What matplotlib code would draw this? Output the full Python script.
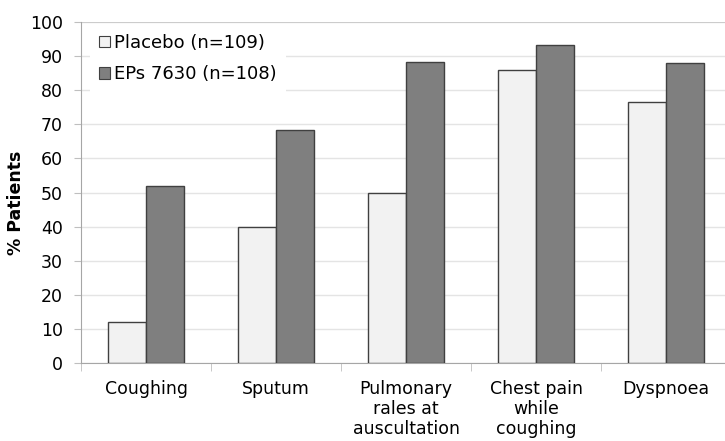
import numpy as np
import matplotlib
matplotlib.use("Agg")
from matplotlib import pyplot as plt
from matplotlib.patches import Patch

# Data
categories = ["Coughing", "Sputum", "Pulmonary\nrales at\nauscultation",
              "Chest pain\nwhile\ncoughing", "Dyspnoea"]
placebo = [12, 40, 50, 86, 76.6]
eps7630 = [52, 68.2, 88.2, 93.4, 88]
series_names = ["Placebo (n=109)", "EPs 7630 (n=108)"]
yticks = list(range(0, 101, 10))

plt.rcParams['font.family'] = ['DejaVu Sans']

fig = plt.figure(figsize=(7.25, 4.41), dpi=100)
# plot area: left 81px, right ~731px (cropped), top 22px, bottom 363px
ax = fig.add_axes([81/725, 1 - 363/441, 650/725, 341/441])

x = np.arange(len(categories))
w = 0.29
ax.bar(x - w/2, placebo, width=w, color="#f2f2f2", edgecolor="#404040",
       linewidth=1.0, zorder=3)
ax.bar(x + w/2, eps7630, width=w, color="#7f7f7f", edgecolor="#404040",
       linewidth=1.0, zorder=3)

ax.set_xlim(-0.5, len(categories) - 0.5)
ax.set_ylim(0, 100)
ax.set_yticks(yticks)
ax.yaxis.grid(True, color="#e4e4e4", linewidth=1.0, zorder=0)
ax.set_axisbelow(True)

ax.set_xticks(x)
ax.set_xticklabels(categories, fontsize=12.5, linespacing=1.17, va="top")
ax.tick_params(axis="x", which="major", length=0, pad=12)
ax.set_xticks(np.arange(len(categories) + 1) - 0.5, minor=True)
ax.tick_params(axis="x", which="minor", length=6, color="#bfbfbf")
ax.tick_params(axis="y", length=5, color="#bfbfbf", labelsize=12.5, pad=8)

for side in ["top", "right"]:
    ax.spines[side].set_visible(False)
for side in ["left", "bottom"]:
    ax.spines[side].set_color("#a6a6a6")
ax.axhline(100, color="#c8c8c8", linewidth=1.2, zorder=1)

ax.set_ylabel("% Patients", fontsize=12.5, fontweight="bold")
ax.yaxis.set_label_coords(-0.086, 0.47)

handles = [Patch(facecolor="#f2f2f2", edgecolor="#404040", linewidth=0.8),
           Patch(facecolor="#7f7f7f", edgecolor="#404040", linewidth=0.8)]
leg = ax.legend(handles, series_names, loc="upper left",
                bbox_to_anchor=(0.0, 1.018), frameon=True, fontsize=13,
                handlelength=0.6, handleheight=0.6, handletextpad=0.25,
                labelspacing=0.75, borderpad=0.5, fancybox=False)
leg.get_frame().set_edgecolor("none")
leg.get_frame().set_facecolor("white")
leg.get_frame().set_alpha(1.0)

fig.savefig("out.png", dpi=100)
